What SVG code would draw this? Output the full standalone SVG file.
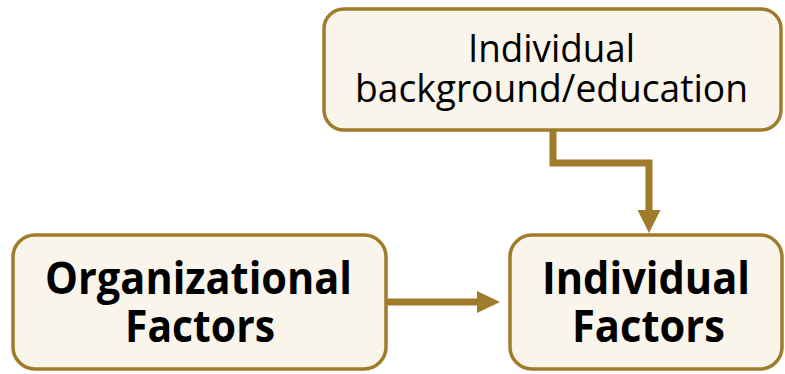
<svg xmlns="http://www.w3.org/2000/svg" width="785" height="374" viewBox="0 0 785 374">
  <defs>
    <style>
      .box { fill: #F9F5EB; stroke: #A07B2C; stroke-width: 3.5; }
      .link { fill: none; stroke: #A07B2C; stroke-width: 7; stroke-linejoin: miter; }
      .head { fill: #A07B2C; }
      .lbl { font-family: "Open Sans", "Noto Sans", sans-serif; fill: #000; text-anchor: middle; }
      .reg { font-size: 39px; font-weight: 400; }
      .bold { font-size: 45px; font-weight: 700; }
    </style>
  </defs>
  <rect width="785" height="374" fill="#FFFFFF"/>

  <g id="connectors">
    <path class="link" d="M553 130 V163 H649 V212"/>
    <polygon class="head" points="637.5,210 660.5,210 649,233"/>
    <path class="link" d="M386 302 H479"/>
    <polygon class="head" points="477,291 477,313 500,302"/>
  </g>

  <g id="background">
    <rect class="box" x="324" y="9" width="457" height="121" rx="20"/>
    <text class="lbl reg" x="551.5" y="62" textLength="167" lengthAdjust="spacingAndGlyphs">Individual</text>
    <text class="lbl reg" x="551.5" y="102" textLength="393" lengthAdjust="spacingAndGlyphs">background/education</text>
  </g>

  <g id="organizational">
    <rect class="box" x="13" y="235" width="373" height="134" rx="22"/>
    <text class="lbl bold" x="198.5" y="294" textLength="307" lengthAdjust="spacingAndGlyphs">Organizational</text>
    <text class="lbl bold" x="200" y="342" textLength="150" lengthAdjust="spacingAndGlyphs">Factors</text>
  </g>

  <g id="individual">
    <rect class="box" x="510" y="235" width="272" height="134" rx="22"/>
    <text class="lbl bold" x="646" y="294" textLength="208" lengthAdjust="spacingAndGlyphs">Individual</text>
    <text class="lbl bold" x="648.5" y="342" textLength="153" lengthAdjust="spacingAndGlyphs">Factors</text>
  </g>
</svg>
